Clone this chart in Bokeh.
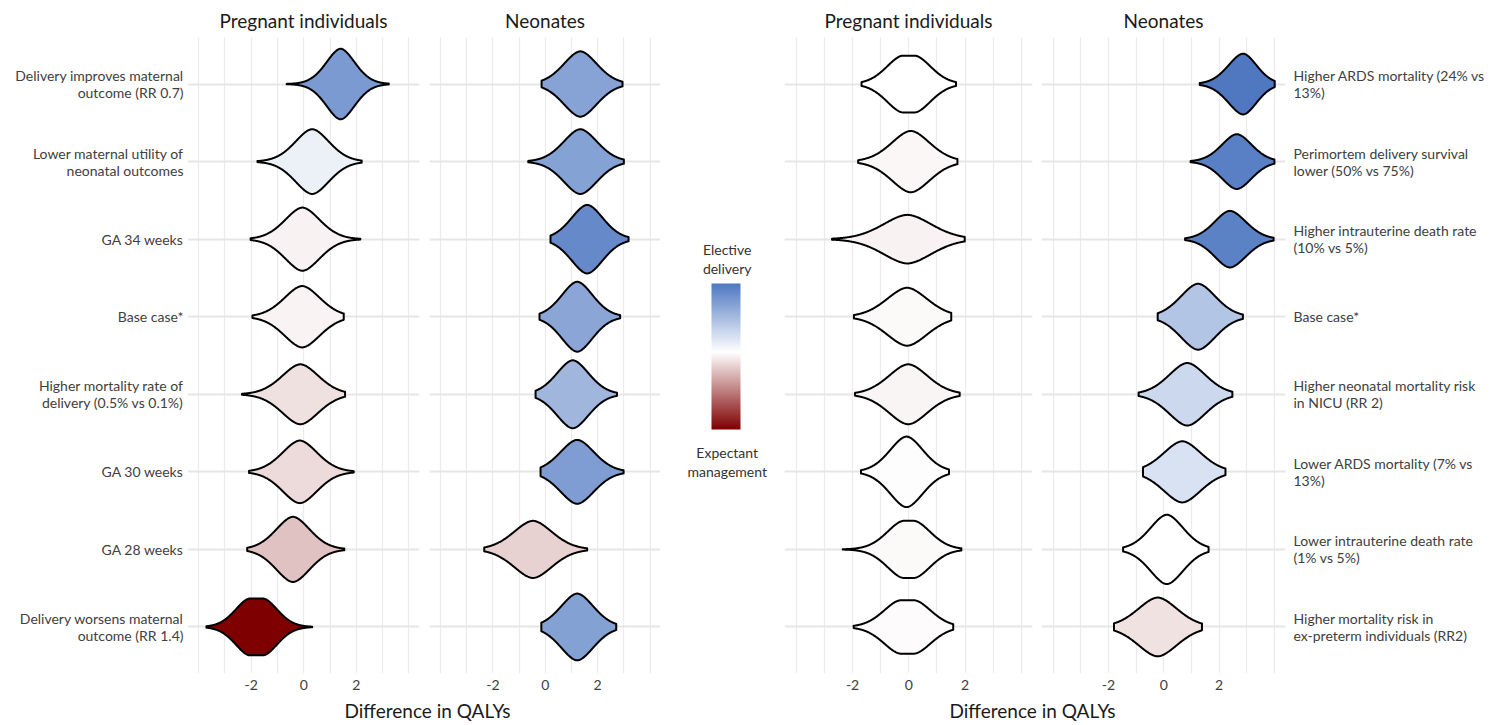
import numpy as np
from bokeh.plotting import figure
from bokeh.models import (FixedTicker, Grid, ColumnDataSource,
                          LinearColorMapper, ColorBar, Label)
from bokeh.layouts import row, column
from bokeh.embed import file_html
from bokeh.resources import INLINE

FONT = "Lato"

# ---------------- data (rows listed top to bottom) ----------------
left_labels = [
    "Delivery improves maternal\noutcome (RR 0.7)",
    "Lower maternal utility of\nneonatal outcomes",
    "GA 34 weeks",
    "Base case*",
    "Higher mortality rate of\ndelivery (0.5% vs 0.1%)",
    "GA 30 weeks",
    "GA 28 weeks",
    "Delivery worsens maternal\noutcome (RR 1.4)",
]
right_labels = [
    "Higher ARDS mortality (24% vs\n13%)",
    "Perimortem delivery survival\nlower (50% vs 75%)",
    "Higher intrauterine death rate\n(10% vs 5%)",
    "Base case*",
    "Higher neonatal mortality risk\nin NICU (RR 2)",
    "Lower ARDS mortality (7% vs\n13%)",
    "Lower intrauterine death rate\n(1% vs 5%)",
    "Higher mortality risk in\nex-preterm individuals (RR2)",
]
panel_titles = ["Pregnant individuals", "Neonates", "Pregnant individuals", "Neonates"]
x_tick_labels = [-2, 0, 2]
x_grid_values = [-4, -3, -2, -1, 0, 1, 2, 3, 4]
x_title = "Difference in QALYs"
legend_top = "Elective\ndelivery"
legend_bottom = "Expectant\nmanagement"

# Left group, pregnant individuals
p1_mode     = [1.40, 0.32, -0.05, -0.06, -0.13, -0.15, -0.41, -1.80]
p1_spread_l = [0.80, 0.947, 0.971, 1.00, 1.021, 0.978, 0.943, 0.80]
p1_spread_r = [0.80, 0.947, 0.971, 1.00, 1.021, 0.978, 0.943, 0.80]
p1_plateau  = [0.0, 0.0, 0.0, 0.0, 0.0, 0.0, 0.0, 0.50]
p1_peak     = [0.989, 0.908, 0.885, 0.860, 0.840, 0.877, 0.913, 0.796]
p1_min      = [-0.65, -1.76, -2.02, -1.95, -2.35, -2.08, -2.15, -3.70]
p1_max      = [3.23, 2.20, 2.15, 1.52, 1.57, 1.90, 1.54, 0.32]
p1_fill     = [0.665, 0.096, -0.05, -0.045, -0.12, -0.14, -0.24, -1.0]

# Left group, neonates
p2_mode     = [1.34, 1.34, 1.60, 1.22, 1.05, 1.22, -0.47, 1.22]
p2_spread_l = [0.939, 0.947, 0.891, 0.878, 0.904, 0.956, 1.073, 0.919]
p2_spread_r = [0.939, 0.947, 0.891, 0.878, 0.904, 0.956, 1.073, 0.919]
p2_plateau  = [0.0, 0.0, 0.0, 0.0, 0.0, 0.0, 0.0, 0.0]
p2_peak     = [0.916, 0.908, 0.961, 0.980, 0.952, 0.896, 0.801, 0.936]
p2_min      = [-0.14, -0.65, 0.20, -0.22, -0.37, -0.18, -2.33, -0.15]
p2_max      = [2.95, 3.00, 3.18, 2.86, 2.74, 2.99, 1.60, 2.71]
p2_fill     = [0.60, 0.61, 0.77, 0.59, 0.48, 0.64, -0.18, 0.615]

# Right group, pregnant individuals
p3_mode     = [0.00, 0.07, -0.05, -0.06, -0.02, -0.08, 0.00, -0.05]
p3_spread_l = [0.85, 1.00, 1.26, 1.058, 1.021, 0.869, 0.871, 0.886]
p3_spread_r = [0.85, 1.00, 1.26, 1.058, 1.021, 0.869, 0.871, 0.886]
p3_plateau  = [0.41, 0.0, 0.0, 0.0, 0.0, 0.0, 0.35, 0.47]
p3_peak     = [0.796, 0.860, 0.681, 0.812, 0.840, 0.989, 0.801, 0.748]
p3_min      = [-1.68, -1.80, -2.73, -1.95, -1.91, -1.70, -2.35, -1.96]
p3_max      = [1.68, 1.73, 1.99, 1.51, 1.81, 1.43, 1.87, 1.58]
p3_fill     = [0.0, -0.03, -0.05, -0.02, -0.035, -0.01, -0.025, -0.015]

# Right group, neonates
p4_mode     = [2.87, 2.64, 2.39, 1.24, 0.85, 0.67, 0.11, -0.22]
p4_spread_l = [0.79, 0.80, 0.82, 0.93, 0.978, 1.00, 0.884, 1.043]
p4_spread_r = [0.72, 0.80, 0.86, 0.93, 0.978, 1.00, 0.884, 1.043]
p4_plateau  = [0.0, 0.0, 0.0, 0.0, 0.0, 0.0, 0.0, 0.0]
p4_peak     = [0.852, 0.768, 0.793, 0.924, 0.877, 0.857, 0.972, 0.824]
p4_min      = [1.30, 0.97, 0.77, -0.22, -0.91, -0.75, -1.47, -1.80]
p4_max      = [4.01, 4.00, 3.97, 2.86, 2.48, 2.23, 1.62, 1.38]
p4_fill     = [0.887, 0.83, 0.82, 0.38, 0.26, 0.19, 0.0, -0.11]

panels = [
    (p1_mode, p1_spread_l, p1_spread_r, p1_plateau, p1_peak, p1_min, p1_max, p1_fill),
    (p2_mode, p2_spread_l, p2_spread_r, p2_plateau, p2_peak, p2_min, p2_max, p2_fill),
    (p3_mode, p3_spread_l, p3_spread_r, p3_plateau, p3_peak, p3_min, p3_max, p3_fill),
    (p4_mode, p4_spread_l, p4_spread_r, p4_plateau, p4_peak, p4_min, p4_max, p4_fill),
]

# ---------------- colour scale ----------------
FILL_LOW, FILL_HIGH = -1.0, 0.887
RED = np.array([127, 0, 0], float)
WHITE = np.array([255, 255, 255], float)
BLUE = np.array([79, 120, 193], float)
palette = []
for v in np.linspace(FILL_LOW, FILL_HIGH, 256):
    if v < 0:
        c = WHITE + (RED - WHITE) * (v / FILL_LOW)
    else:
        c = WHITE + (BLUE - WHITE) * (v / FILL_HIGH)
    palette.append("#%02x%02x%02x" % tuple(int(round(x)) for x in c))
mapper = LinearColorMapper(palette=palette, low=FILL_LOW, high=FILL_HIGH)

# ---------------- helpers ----------------
N_ROWS = 8
ROW_Y = [N_ROWS - i for i in range(N_ROWS)]  # top row -> 8
SHAPE_P = 1.8
HALF_MAX = 0.46  # half-width (y units) for relative peak density 1.0
XR = (-4.42, 4.40)
YR = (0.4, 8.6)
H_MAIN = 697
B_TOP, B_BOTTOM = 37, 24
FRAME_H = H_MAIN - B_TOP - B_BOTTOM
TXT = "#404040"


def violin_source(mode, spread_l, spread_r, plateau, peak, lo_, hi_, fill):
    xs, ys = [], []
    for i in range(N_ROWS):
        x = np.linspace(lo_[i], hi_[i], 240)
        off = x - mode[i]
        d = np.maximum(np.abs(off) - plateau[i] / 2, 0)
        s = np.where(off < 0, spread_l[i], spread_r[i])
        h = HALF_MAX * peak[i] * np.exp(-(d / s) ** SHAPE_P)
        y0 = ROW_Y[i]
        xs.append(np.concatenate([x, x[::-1]]).tolist())
        ys.append(np.concatenate([y0 + h, (y0 - h)[::-1]]).tolist())
    return ColumnDataSource(dict(xs=xs, ys=ys, fv=list(fill)))


def make_panel(idx, width, bl, br, yaxis=None):
    p = figure(width=width, height=H_MAIN, x_range=XR, y_range=YR,
               output_backend="svg", toolbar_location=None,
               min_border_left=bl, min_border_right=br,
               min_border_top=B_TOP, min_border_bottom=B_BOTTOM,
               outline_line_color=None, y_axis_location=yaxis,
               title=panel_titles[idx])
    p.title.align = "center"
    p.title.text_font = FONT
    p.title.text_font_size = "19px"
    p.title.text_font_style = "normal"
    p.title.text_color = "#1a1a1a"
    p.title.standoff = 12

    xa = p.xaxis[0]
    xa.ticker = FixedTicker(ticks=x_tick_labels)
    xa.major_label_overrides = {v: str(v) for v in x_tick_labels}
    xa.axis_line_color = None
    xa.major_tick_line_color = None
    xa.minor_tick_line_color = None
    xa.major_tick_in = 0
    xa.major_tick_out = 0
    xa.major_label_standoff = 6
    xa.major_label_text_font = FONT
    xa.major_label_text_font_size = "14px"
    xa.major_label_text_color = TXT
    p.xgrid.ticker = FixedTicker(ticks=x_grid_values)
    p.xgrid.grid_line_color = "#ebebeb"
    p.xgrid.grid_line_width = 1.2

    if yaxis is not None:
        ya = p.yaxis[0]
        ya.ticker = FixedTicker(ticks=ROW_Y)
        labels = left_labels if yaxis == "left" else right_labels
        ya.major_label_overrides = {ROW_Y[i]: labels[i] for i in range(N_ROWS)}
        ya.axis_line_color = None
        ya.major_tick_line_color = None
        ya.minor_tick_line_color = None
        ya.major_tick_in = 0
        ya.major_tick_out = 0
        ya.major_label_standoff = 4 if yaxis == "left" else 8
        ya.major_label_text_font = FONT
        ya.major_label_text_font_size = "14px"
        ya.major_label_text_color = TXT
        ya.major_label_text_line_height = 1.0
    if len(p.ygrid) > 0:
        g = p.ygrid[0]
        g.ticker = FixedTicker(ticks=ROW_Y)
    else:
        g = Grid(dimension=1, ticker=FixedTicker(ticks=ROW_Y))
        p.add_layout(g)
    g.grid_line_color = "#e6e6e6"
    g.grid_line_width = 1.8

    src = violin_source(*panels[idx])
    p.patches("xs", "ys", source=src,
              fill_color={"field": "fv", "transform": mapper},
              fill_alpha=1.0, line_color="black", line_width=2.0,
              line_join="round")
    return p


f1 = make_panel(0, 424, 187, 5, "left")
f2 = make_panel(1, 236, 5, 0)
f3 = make_panel(2, 253, 0, 5)
f4 = make_panel(3, 451, 4, 200, "right")

# ---------------- legend (frame-pixel coordinates) ----------------
leg = figure(width=124, height=H_MAIN, x_range=(0, 124), y_range=(0, FRAME_H),
             output_backend="svg", toolbar_location=None,
             x_axis_location=None, y_axis_location=None,
             min_border_left=0, min_border_right=0,
             min_border_top=B_TOP, min_border_bottom=B_BOTTOM,
             outline_line_color=None)
leg.grid.visible = False
cb = ColorBar(color_mapper=mapper, width=29, height=146, location=(51, 244),
              padding=0, ticker=FixedTicker(ticks=[]),
              major_label_text_font_size="0px", major_tick_line_color=None,
              minor_tick_line_color=None, bar_line_color=None,
              border_line_color=None, background_fill_alpha=0)
leg.add_layout(cb)
for txt, yy in [(legend_top, 414.5), (legend_bottom, 211.8)]:
    leg.add_layout(Label(x=66.7, y=yy, text=txt, text_align="center",
                         text_baseline="middle", text_font=FONT,
                         text_font_size="14px", text_color="#333333",
                         text_line_height=1.1))

# ---------------- shared axis titles ----------------
TW = 424 + 236 + 124 + 253 + 451
TH = 27
tf = figure(width=TW, height=TH, x_range=(0, TW), y_range=(0, TH),
            output_backend="svg", toolbar_location=None,
            x_axis_location=None, y_axis_location=None, min_border=0,
            outline_line_color=None)
tf.grid.visible = False
for xx in [427, 1032]:
    tf.add_layout(Label(x=xx, y=14, text=x_title, text_align="center",
                        text_baseline="middle", text_font=FONT,
                        text_font_size="19px", text_color="#1a1a1a"))

layout = column(row(f1, f2, leg, f3, f4), tf)
open("out.html", "w").write(file_html(layout, INLINE))
